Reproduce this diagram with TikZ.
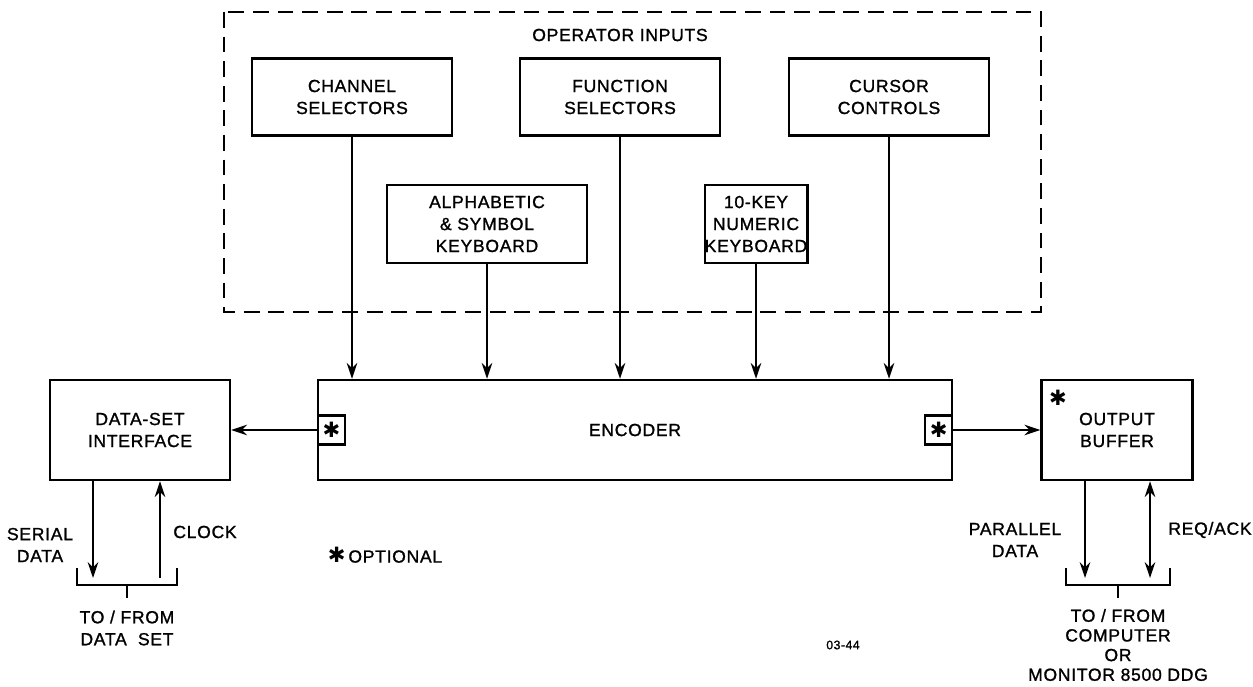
\documentclass[tikz,border=0pt]{standalone}
\usepackage{fontspec}
\setmainfont{Liberation Sans}[LetterSpace=4, FakeBold=1.2]
\newfontfamily\symfont{DejaVu Sans}
\newcommand\optmark{{\symfont\fontsize{12}{12}\selectfont\char"2731}}
\usetikzlibrary{arrows.meta,calc}

\begin{document}
\begin{tikzpicture}[>={Stealth[length=9pt,width=6pt]}, x=0.02cm, y=-0.02cm,
        font=\fontsize{10}{12.5}\selectfont,
        blk/.style={draw, line width=1.4pt, align=center, inner sep=0pt},
        star/.style={draw, line width=1.2pt, minimum width=0.54cm, minimum height=0.58cm, inner sep=0pt},
        sig/.style={->, line width=1.1pt}]
    \useasboundingbox (0,0) rectangle (1253,686);
    % operator inputs
    \draw[line width=1.1pt, dash pattern=on 9pt off 5pt] (224,12) rectangle (1041,312);
    \node (opin) at (620,35) {OPERATOR INPUTS};
    \node[blk, minimum width=4cm, minimum height=1.54cm] (chan) at (352,97) {CHANNEL\\SELECTORS};
    \node[blk, minimum width=4cm, minimum height=1.54cm] (func) at (620,97) {FUNCTION\\SELECTORS};
    \node[blk, minimum width=4cm, minimum height=1.54cm] (curs) at (889,97) {CURSOR\\CONTROLS};
    \node[blk, minimum width=4cm, minimum height=1.56cm] (alpha) at (487,224) {ALPHABETIC\\\& SYMBOL\\KEYBOARD};
    \node[blk, minimum width=2cm, minimum height=1.56cm] (tenkey) at (756,224) {10-KEY\\NUMERIC\\KEYBOARD};
    % main row
    \node[blk, minimum width=12.68cm, minimum height=2cm] (enc) at (635,430) {ENCODER};
    \node[blk, minimum width=3.6cm, minimum height=2cm] (dsi) at (140,430) {DATA-SET\\INTERFACE};
    \node[blk, minimum width=3.02cm, minimum height=2cm] (obuf) at (1117,430) {OUTPUT\\BUFFER};
    \node (obstar) at (1058,398) {\optmark};
    \node[star, anchor=west] (lstar) at (enc.west) {\optmark};
    \node[star, anchor=east] (rstar) at (enc.east) {\optmark};
    \foreach \n in {chan,func,curs,alpha,tenkey}
        \draw[sig] (\n.south) -- (\n.south |- enc.north);
    \draw[sig] (lstar.west) -- (dsi.east);
    \draw[sig] (rstar.east) -- (obuf.west);
    % data set side
    \coordinate (dsb) at (127,585);
    \draw[line width=1.1pt] ($(dsb)+(-50,-17)$) -- ($(dsb)+(-50,0)$) -- ($(dsb)+(50,0)$) -- ($(dsb)+(50,-17)$)
        (dsb) -- ++(0,13);
    \draw[sig] ($(dsi.south)+(-47,0)$) -- ($(dsb)+(-34,-7)$);
    \draw[sig] ($(dsb)+(33,-7)$) -- ($(dsi.south)+(20,0)$);
    \node[align=center] (serial) at (40,545) {SERIAL\\DATA};
    \node (clock) at (205,532) {CLOCK};
    \node[align=center] (dset) at (127,628) {TO / FROM\\DATA \ SET};
    \node (optnote) at (385,555) {\optmark\,OPTIONAL};
    % computer side
    \coordinate (cb) at (1118,585);
    \draw[line width=1.1pt] ($(cb)+(-52,-17)$) -- ($(cb)+(-52,0)$) -- ($(cb)+(52,0)$) -- ($(cb)+(52,-17)$)
        (cb) -- ++(0,13);
    \draw[sig] ($(obuf.south)+(-32,0)$) -- ($(cb)+(-33,-7)$);
    \draw[sig, <->] ($(obuf.south)+(33,0)$) -- ($(cb)+(32,-7)$);
    \node[align=center] (par) at (1015,540) {PARALLEL\\DATA};
    \node (reqack) at (1210,530) {REQ/ACK};
    \node[align=center, inner sep=0pt, font=\fontsize{10}{11.2}\selectfont] (comp) at (1118,645) {TO / FROM\\COMPUTER\\OR\\MONITOR 8500 DDG};
    \node[font=\fontsize{7}{8}\selectfont] (dwg) at (843,645) {03-44};
\end{tikzpicture}
\end{document}
